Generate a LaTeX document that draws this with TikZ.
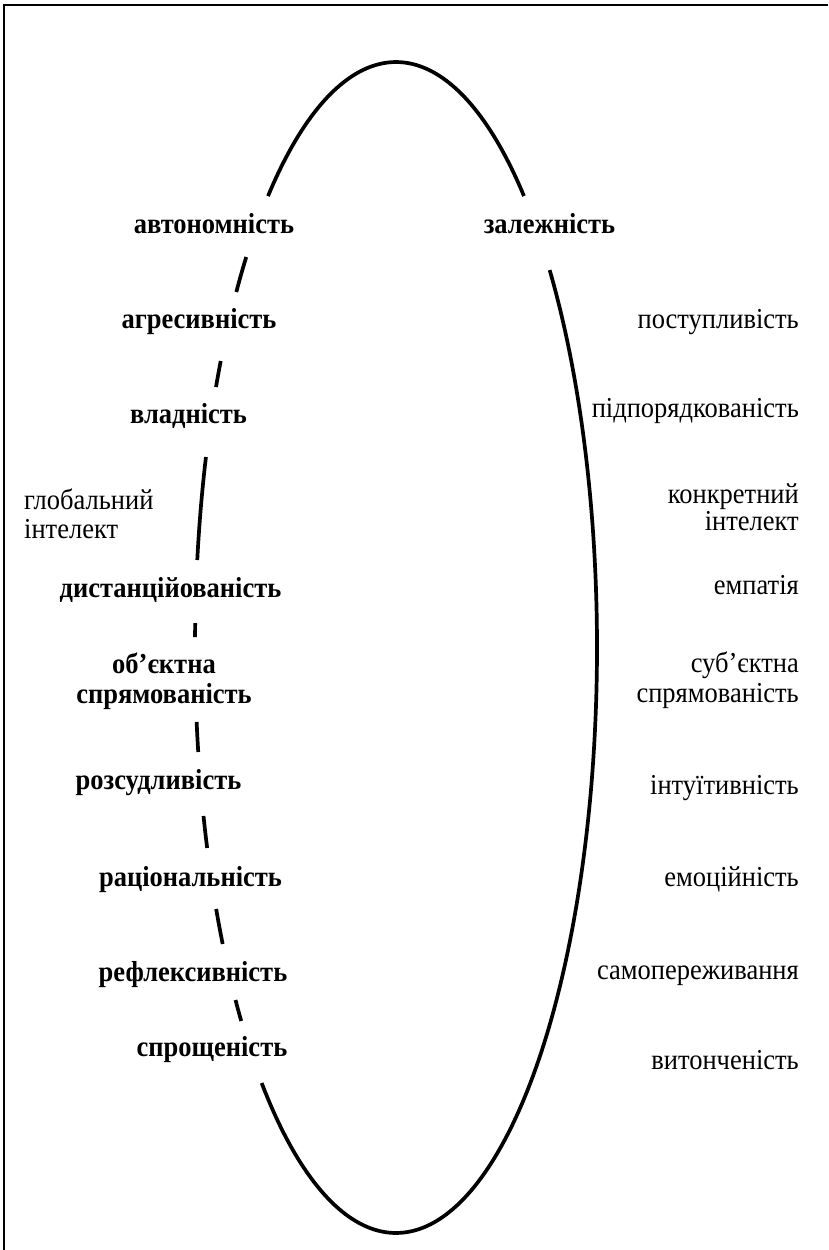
\documentclass[tikz,border=0pt]{standalone}
\usepackage{graphicx}
\usepackage{fontspec}
\setmainfont{Liberation Serif}
\newcommand{\tallt}[1]{\scalebox{1}[1.09]{#1}}
\begin{document}
\begin{tikzpicture}[x=1pt,y=-1pt,
  ell/.style={line width=3.7pt,black},
  frameline/.style={line width=2pt,black},
  lbl/.style={inner sep=0pt,font=\fontsize{26.5}{30}\selectfont\bfseries,anchor=base},
  rlbl/.style={inner sep=0pt,font=\fontsize{26.5}{30}\selectfont,anchor=base east},
  llbl/.style={inner sep=0pt,font=\fontsize{26.5}{30}\selectfont,anchor=base west}]
\useasboundingbox (0,0) rectangle (828,1250);
% frame (top and left only)
\draw[frameline] (3.7,1250) -- (3.7,4.7) -- (828,4.7);
% ellipse pieces: centre (396,647.5), radii 201 and 585.5
\def\cx{396}\def\cy{647.5}\def\ra{201}\def\rb{585.5}
% top arc
\draw[ell] plot[domain=230.45:309.55,samples=80,smooth] ({\cx+\ra*cos(\x)},{\cy+\rb*sin(\x)});
% right side and bottom
\draw[ell] plot[domain=-40.14:131.94,samples=160,smooth] ({\cx+\ra*cos(\x)},{\cy+\rb*sin(\x)});
% left dashes
\foreach \ya/\yb in {257/292,361/387,457/560,623/637,722/752,816/848,909/944,1000/1021}{
  \pgfmathsetmacro\ta{180-asin((\ya-\cy)/\rb)}
  \pgfmathsetmacro\tb{180-asin((\yb-\cy)/\rb)}
  \draw[ell] plot[domain=\ta:\tb,samples=20,smooth] ({\cx+\ra*cos(\x)},{\cy+\rb*sin(\x)});
}
% left bold labels
\node[lbl] (avt) at (214,233.5) {\tallt{автономність}};
\node[lbl] (zal) at (549.5,233.5) {\tallt{залежність}};
\node[lbl] (agr) at (199,328.5) {\tallt{агресивність}};
\node[lbl] (vla) at (188.5,423.5) {\tallt{владність}};
\node[lbl] (dys) at (170.5,597.5) {\tallt{дистанційованість}};
\node[lbl] (ob1) at (164,673.5) {\tallt{об’єктна}};
\node[lbl] (ob2) at (164,703.5) {\tallt{спрямованість}};
\node[lbl] (roz) at (158.5,789.5) {\tallt{розсудливість}};
\node[lbl] (rac) at (190.5,886.5) {\tallt{раціональність}};
\node[lbl] (ref) at (193,981.5) {\tallt{рефлексивність}};
\node[lbl] (spr) at (212,1056.5) {\tallt{спрощеність}};
% left normal label
\node[llbl] (gl1) at (24,509.5) {\tallt{глобальний}};
\node[llbl] (gl2) at (24,538.5) {\tallt{інтелект}};
% right labels
\node[rlbl] (pos) at (799,328.5) {\tallt{поступливість}};
\node[rlbl] (pid) at (799,417.5) {\tallt{підпорядкованість}};
\node[rlbl] (kon1) at (799,503.5) {\tallt{конкретний}};
\node[rlbl] (kon2) at (799,530.5) {\tallt{інтелект}};
\node[rlbl] (emp) at (799,594.5) {\tallt{емпатія}};
\node[rlbl] (sub1) at (799,672) {\tallt{суб’єктна}};
\node[rlbl] (sub2) at (799,702.5) {\tallt{спрямованість}};
\node[rlbl] (int) at (799,794.5) {\tallt{інтуїтивність}};
\node[rlbl] (emo) at (799,886.5) {\tallt{емоційність}};
\node[rlbl] (sam) at (799,979.5) {\tallt{самопереживання}};
\node[rlbl] (vyt) at (799,1069.5) {\tallt{витонченість}};
\end{tikzpicture}
\end{document}
